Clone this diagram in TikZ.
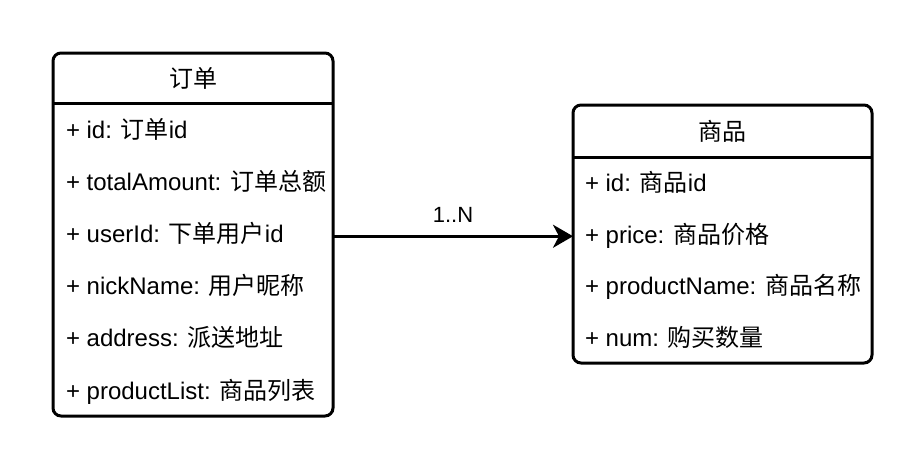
\documentclass[tikz,border=0pt]{standalone}
\usepackage{fontspec}
\setmainfont{Liberation Sans}
\newfontfamily\cjk{Noto Sans CJK SC}
\usetikzlibrary{positioning,arrows.meta}

\newcommand{\zh}[1]{{\cjk #1}}

\tikzset{
  classbox/.style={draw, line width=3pt, rounded corners=8pt, inner sep=0pt,
    outer sep=0pt, anchor=north west},
  classhead/.style={minimum width=#1, minimum height=52pt, inner sep=0pt, outer sep=0pt,
    font=\fontsize{24}{28}\selectfont\cjk},
  classrow/.style={minimum height=#1, inner sep=0pt, outer sep=0pt,
    text height=20pt, text depth=2pt, font=\fontsize{24}{28}\selectfont},
}

\begin{document}
\begin{tikzpicture}[x=1pt,y=-1pt]
  \useasboundingbox (0,0) rectangle (924,472);

  % order class
  \node[classbox, minimum width=280pt, minimum height=363pt] (order) at (53,53) {};
  \node[classhead=280pt, minimum height=50pt, below=0pt of order.north] (oHead) {订单};
  \draw[line width=3pt] (oHead.south -| order.west) -- (oHead.south -| order.east);
  \node[classrow=52.2pt, below right=0pt and 13pt of oHead.south west] (oId) {+ id: \zh{订单}id};
  \node[classrow=52.2pt, below right=0pt and 0pt of oId.south west] (oTotal) {+ totalAmount: \zh{订单总额}};
  \node[classrow=52.2pt, below right=0pt and 0pt of oTotal.south west] (oUser) {+ userId: \zh{下单用户}id};
  \node[classrow=52.2pt, below right=0pt and 0pt of oUser.south west] (oNick) {+ nickName: \zh{用户昵称}};
  \node[classrow=52.2pt, below right=0pt and 0pt of oNick.south west] (oAddr) {+ address: \zh{派送地址}};
  \node[classrow=52.2pt, below right=0pt and 0pt of oAddr.south west] (oList) {+ productList: \zh{商品列表}};

  % product class
  \node[classbox, minimum width=299pt, minimum height=258pt] (product) at (573,105) {};
  \node[classhead=299pt, below=0pt of product.north] (pHead) {商品};
  \draw[line width=3pt] (pHead.south -| product.west) -- (pHead.south -| product.east);
  \node[classrow=51.5pt, below right=0pt and 12pt of pHead.south west] (pId) {+ id: \zh{商品}id};
  \node[classrow=51.5pt, below right=0pt and 0pt of pId.south west] (pPrice) {+ price: \zh{商品价格}};
  \node[classrow=51.5pt, below right=0pt and 0pt of pPrice.south west] (pName) {+ productName: \zh{商品名称}};
  \node[classrow=51.5pt, below right=0pt and 0pt of pName.south west] (pNum) {+ num: \zh{购买数量}};

  % relation
  \draw[line width=3pt, -{Stealth[length=20pt,width=23pt,inset=6pt]}]
    ([yshift=-2pt]order.east |- pPrice.west) -- ([yshift=-2pt]product.west |- pPrice.west)
    node[midway, above=12pt, inner sep=0pt, font=\fontsize{22}{26}\selectfont] (mult) {1..N};
\end{tikzpicture}
\end{document}
